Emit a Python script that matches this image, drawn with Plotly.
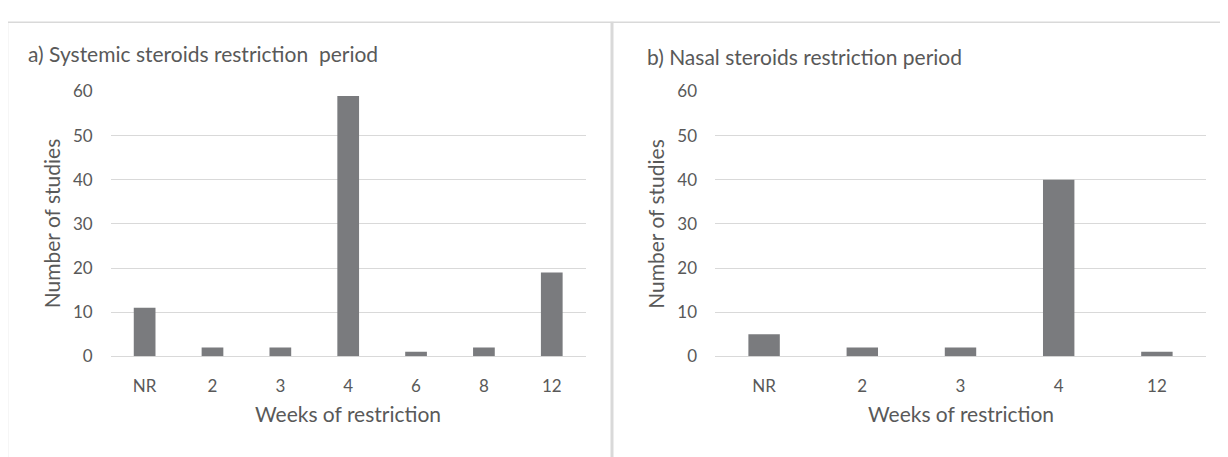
import plotly.graph_objects as go
from plotly.subplots import make_subplots

# Data
systemic_weeks = ["NR", "2", "3", "4", "6", "8", "12"]
systemic_counts = [11, 2, 2, 59, 1, 2, 19]

nasal_weeks = ["NR", "2", "3", "4", "12"]
nasal_counts = [5, 2, 2, 40, 1]

y_ticks = [0, 10, 20, 30, 40, 50, 60]

W, H = 1228, 457
OFF = 8  # page body margin compensation
FONT = "Lato, Open Sans, sans-serif"
TXT = "#595959"
GRID = "#d9d9d9"
BAR = "#7a7b7e"


def px(x):
    return (x - OFF) / W


def py(y):
    return 1 - (y - OFF) / H


fig = make_subplots(rows=1, cols=2)

fig.add_trace(go.Bar(x=systemic_weeks, y=systemic_counts, marker_color=BAR,
                     marker_line_width=0, showlegend=False), row=1, col=1)
fig.add_trace(go.Bar(x=nasal_weeks, y=nasal_counts, marker_color=BAR,
                     marker_line_width=0, showlegend=False), row=1, col=2)

ydom = [py(361.5), py(84)]
TICKF = dict(size=17, color=TXT)
fig.update_layout(
    width=W, height=H,
    margin=dict(l=0, r=0, t=0, b=0),
    paper_bgcolor="white", plot_bgcolor="white",
    bargap=0.68,
    font=dict(family=FONT, color=TXT, size=17),
    xaxis=dict(domain=[px(110.7), px(585.7)], type="category", showgrid=False,
               showline=False, ticks="", ticklabelstandoff=18, tickfont=TICKF),
    xaxis2=dict(domain=[px(715), px(1206)], type="category", showgrid=False,
                showline=False, ticks="", ticklabelstandoff=18, tickfont=TICKF),
    yaxis=dict(domain=ydom, range=[0, 60], tickvals=y_ticks, showgrid=True,
               gridcolor=GRID, gridwidth=1, zeroline=True, zerolinecolor=GRID,
               zerolinewidth=1, showline=False, ticks="", ticklabelstandoff=17,
               tickfont=TICKF),
    yaxis2=dict(domain=ydom, range=[0, 60], tickvals=y_ticks, showgrid=True,
                gridcolor=GRID, gridwidth=1, zeroline=True, zerolinecolor=GRID,
                zerolinewidth=1, showline=False, ticks="", ticklabelstandoff=17,
                tickfont=TICKF),
)

annots = [
    dict(x=px(26), y=py(44), text="a) Systemic steroids restriction  period",
         xanchor="left", yanchor="middle", font=dict(size=21)),
    dict(x=px(645), y=py(47), text="b) Nasal steroids restriction period",
         xanchor="left", yanchor="middle", font=dict(size=21)),
    dict(x=px(51.5), y=py(222.7), text="Number of studies", textangle=-90,
         xanchor="center", yanchor="middle", font=dict(size=21)),
    dict(x=px(656), y=py(222.7), text="Number of studies", textangle=-90,
         xanchor="center", yanchor="middle", font=dict(size=21)),
    dict(x=px(348), y=py(421), text="Weeks of restriction",
         xanchor="center", yanchor="middle", font=dict(size=21)),
    dict(x=px(960.5), y=py(421), text="Weeks of restriction",
         xanchor="center", yanchor="middle", font=dict(size=21)),
]
for a in annots:
    a.update(xref="paper", yref="paper", showarrow=False)
    fig.add_annotation(**a)

# Panel borders
shapes = [
    dict(type="line", x0=px(7), x1=px(1240), y0=py(11.5), y1=py(11.5),
         line=dict(color=GRID, width=1.5)),
    dict(type="line", x0=px(7.5), x1=px(7.5), y0=py(11), y1=py(470),
         line=dict(color=GRID, width=1.5)),
    dict(type="line", x0=px(612), x1=px(612), y0=py(11), y1=py(470),
         line=dict(color=GRID, width=3)),
]
for s in shapes:
    s.update(xref="paper", yref="paper", layer="below")
    fig.add_shape(**s)

fig.write_html("out.html")
